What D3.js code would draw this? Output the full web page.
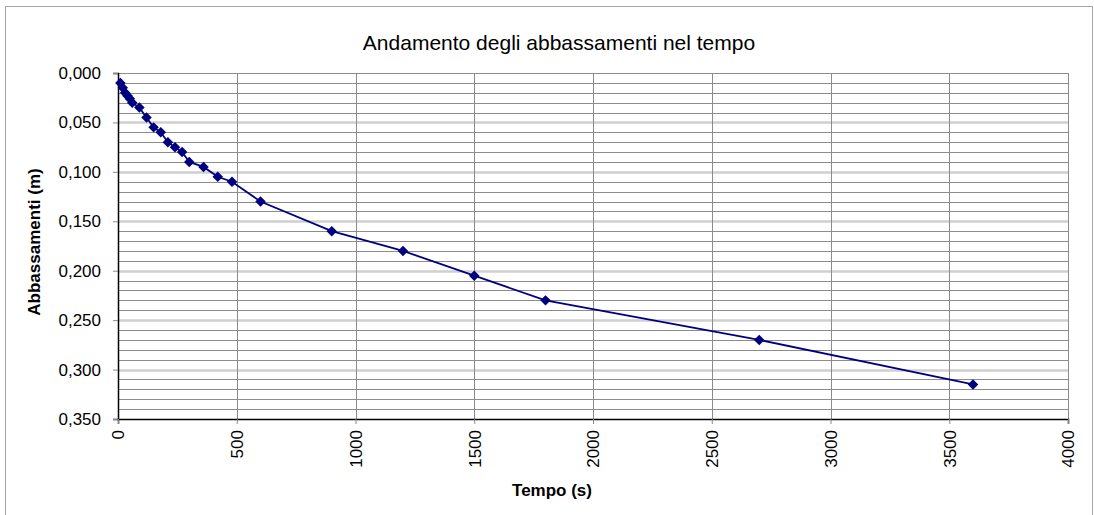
<!DOCTYPE html>
<html>
<head>
<meta charset="utf-8">
<script src="https://cdn.jsdelivr.net/npm/d3@7"></script>
<style>
  body { margin: 0; background: #fff; }
  svg { font-family: "Liberation Sans", Arial, sans-serif; }
</style>
</head>
<body>
<svg id="chart"></svg>
<script>
// time (s) and drawdown (m)
const tempo = [10, 20, 30, 40, 50, 60, 90, 120, 150, 180, 210, 240, 270, 300, 360, 420, 480, 600, 900, 1200, 1500, 1800, 2700, 3600];
const abbassamenti = [0.010, 0.015, 0.020, 0.023, 0.026, 0.030, 0.035, 0.045, 0.055, 0.060, 0.070, 0.075, 0.080, 0.090, 0.095, 0.105, 0.110, 0.130, 0.160, 0.180, 0.205, 0.230, 0.270, 0.315];
const xTicks = [0, 500, 1000, 1500, 2000, 2500, 3000, 3500, 4000];
const yTicks = [0, 0.05, 0.10, 0.15, 0.20, 0.25, 0.30, 0.35];

const width = 1094, height = 515;
const margin = { left: 118, top: 73, right: 1094 - 1068, bottom: 515 - 419 };

const svg = d3.select('#chart')
  .attr('width', width)
  .attr('height', height);

// chart border
svg.append('rect')
  .attr('x', 5.5).attr('y', 6.5)
  .attr('width', 1087).attr('height', 515)
  .attr('fill', '#fff')
  .attr('stroke', '#a6a6a6')
  .attr('stroke-width', 1);

const xScale = d3.scaleLinear()
  .domain([0, 4000])
  .range([margin.left, width - margin.right]);

const yScale = d3.scaleLinear()
  .domain([0, 0.35])
  .range([margin.top, height - margin.bottom]);

// minor horizontal gridlines every 0.01
const minor = d3.range(1, 35).filter(i => i % 5 !== 0).map(i => i / 100);
svg.append('g').selectAll('line')
  .data(minor)
  .enter().append('line')
  .attr('x1', xScale(0)).attr('x2', xScale(4000))
  .attr('y1', d => Math.round(yScale(d)) + 0.5)
  .attr('y2', d => Math.round(yScale(d)) + 0.5)
  .attr('stroke', '#8c8c8c')
  .attr('stroke-width', 1);

// major horizontal gridlines
svg.append('g').selectAll('line')
  .data(yTicks.slice(1, -1))
  .enter().append('line')
  .attr('x1', xScale(0)).attr('x2', xScale(4000))
  .attr('y1', d => Math.round(yScale(d)) + 0.5)
  .attr('y2', d => Math.round(yScale(d)) + 0.5)
  .attr('stroke', '#cfcfcf')
  .attr('stroke-width', 2.5);

// vertical gridlines
svg.append('g').selectAll('line')
  .data(xTicks.slice(1))
  .enter().append('line')
  .attr('x1', d => Math.round(xScale(d)) + 0.5)
  .attr('x2', d => Math.round(xScale(d)) + 0.5)
  .attr('y1', yScale(0)).attr('y2', yScale(0.35))
  .attr('stroke', '#8c8c8c')
  .attr('stroke-width', 1);

// top line of plot
svg.append('line')
  .attr('x1', xScale(0)).attr('x2', xScale(4000))
  .attr('y1', Math.round(yScale(0)) + 0.5).attr('y2', Math.round(yScale(0)) + 0.5)
  .attr('stroke', '#8c8c8c');

// axes
const yAxis = d3.axisLeft(yScale)
  .tickValues(yTicks)
  .tickSize(5)
  .tickFormat(d => d3.format('.3f')(d).replace('.', ','));

const gy = svg.append('g')
  .attr('transform', `translate(${xScale(0)},0)`)
  .call(yAxis);
gy.select('.domain').attr('stroke', '#000').attr('stroke-width', 1.5);
gy.selectAll('.tick line').attr('stroke', '#888');
gy.selectAll('.tick text')
  .attr('x', -17)
  .attr('font-size', 17)
  .attr('fill', '#000')
  .attr('font-family', '"Liberation Sans", Arial, sans-serif');

const xAxis = d3.axisBottom(xScale)
  .tickValues(xTicks)
  .tickSize(5)
  .tickFormat(d3.format('d'));

const gx = svg.append('g')
  .attr('transform', `translate(0,${yScale(0.35)})`)
  .call(xAxis);
gx.select('.domain').attr('stroke', '#000').attr('stroke-width', 1.5);
gx.selectAll('.tick line').attr('stroke', '#888');
gx.selectAll('.tick text')
  .attr('transform', 'rotate(-90)')
  .attr('text-anchor', 'end')
  .attr('x', -11)
  .attr('y', 0)
  .attr('dy', '0.35em')
  .attr('font-size', 17)
  .attr('fill', '#000')
  .attr('font-family', '"Liberation Sans", Arial, sans-serif');

// series line
const line = d3.line()
  .x((d, i) => xScale(tempo[i]))
  .y(d => yScale(d));

svg.append('path')
  .datum(abbassamenti)
  .attr('d', line)
  .attr('fill', 'none')
  .attr('stroke', '#000080')
  .attr('stroke-width', 1.8);

// diamond markers
svg.append('g').selectAll('path')
  .data(abbassamenti)
  .enter().append('path')
  .attr('d', d3.symbol().type(d3.symbolDiamond2).size(70))
  .attr('transform', (d, i) => `translate(${xScale(tempo[i])},${yScale(d)})`)
  .attr('fill', '#000080');

// titles
svg.append('text')
  .attr('x', 559).attr('y', 50)
  .attr('text-anchor', 'middle')
  .attr('font-size', 21)
  .text('Andamento degli abbassamenti nel tempo');

svg.append('text')
  .attr('x', 552).attr('y', 496)
  .attr('text-anchor', 'middle')
  .attr('font-size', 17)
  .attr('font-weight', 'bold')
  .text('Tempo (s)');

svg.append('text')
  .attr('transform', 'translate(40,242) rotate(-90)')
  .attr('text-anchor', 'middle')
  .attr('font-size', 17)
  .attr('font-weight', 'bold')
  .text('Abbassamenti (m)');
</script>
</body>
</html>
